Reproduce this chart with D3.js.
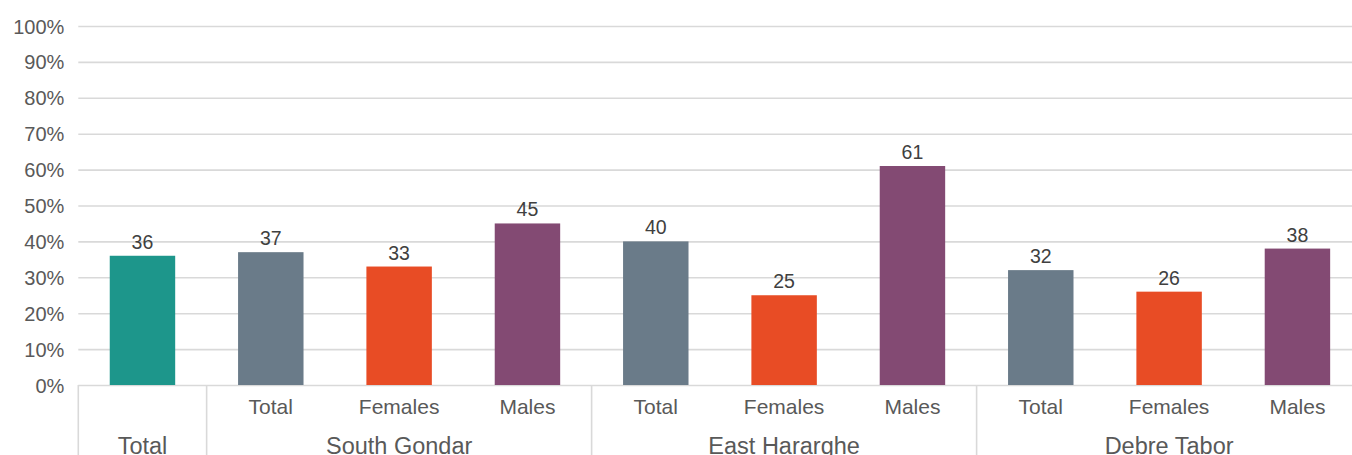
<!DOCTYPE html>
<html>
<head>
<meta charset="utf-8">
<script src="https://cdn.jsdelivr.net/npm/d3@7"></script>
<style>
  html, body { margin: 0; padding: 0; background: #fff; overflow: hidden; }
  svg { display: block; font-family: "Liberation Sans", Arial, sans-serif; }
</style>
</head>
<body>
<svg id="chart" width="1352" height="455"></svg>
<script>
// Share of respondents (%), overall and by zone and sex
const groupNames = ["Total", "South Gondar", "East Hararghe", "Debre Tabor"];
const groupOf    = [0, 1, 1, 1, 2, 2, 2, 3, 3, 3];
const subLabels  = ["", "Total", "Females", "Males", "Total", "Females", "Males", "Total", "Females", "Males"];
const seriesKeys = ["overall", "total", "females", "males", "total", "females", "males", "total", "females", "males"];
const values     = [36, 37, 33, 45, 40, 25, 61, 32, 26, 38];
const yTicks     = [0, 10, 20, 30, 40, 50, 60, 70, 80, 90, 100];

const colors = { overall: "#1d968b", total: "#6a7b89", females: "#e84c25", males: "#834a73" };

const svg = d3.select("#chart");
const plot = { left: 78.3, right: 1361.6, top: 26, bottom: 385 };

const x = d3.scaleBand()
  .domain(d3.range(values.length))
  .range([plot.left, plot.right])
  .paddingInner(0.49)
  .paddingOuter(0.245);

const y = d3.scaleLinear().domain([0, 100]).range([plot.bottom, plot.top]);

// Gridlines and tick labels
const yAxis = d3.axisLeft(y)
  .tickValues(yTicks)
  .tickSize(-(1352 - plot.left))
  .tickPadding(14)
  .tickFormat(d => d + "%");

const gy = svg.append("g")
  .attr("transform", `translate(${plot.left},0)`)
  .call(yAxis);
gy.select(".domain").remove();
gy.selectAll(".tick line").attr("stroke", "#d9d9d9").attr("stroke-width", 1.6);
gy.selectAll(".tick text")
  .attr("fill", "#595959")
  .attr("font-size", 20)
  .attr("dy", "0.35em");

// Bars
svg.append("g").selectAll("rect")
  .data(values)
  .join("rect")
  .attr("x", (d, i) => x(i))
  .attr("y", d => y(d))
  .attr("width", x.bandwidth())
  .attr("height", d => y(0) - y(d))
  .attr("fill", (d, i) => colors[seriesKeys[i]]);

// Value labels
svg.append("g").selectAll("text")
  .data(values)
  .join("text")
  .attr("x", (d, i) => x(i) + x.bandwidth() / 2)
  .attr("y", d => y(d) - 7)
  .attr("text-anchor", "middle")
  .attr("font-size", 19.5)
  .attr("fill", "#404040")
  .text(d => d);

// Category axis: sub labels and group labels with separators
const step = x.step();
const groupSpans = groupNames.map((name, g) => {
  const idx = groupOf.map((v, i) => v === g ? i : -1).filter(i => i >= 0);
  return { name, start: d3.min(idx), end: d3.max(idx) };
});

const sepX = [plot.left].concat(groupSpans.map(s => plot.left + (s.end + 1) * step));
svg.append("g").selectAll("line")
  .data(sepX)
  .join("line")
  .attr("x1", d => d).attr("x2", d => d)
  .attr("y1", plot.bottom).attr("y2", 470)
  .attr("stroke", "#d9d9d9")
  .attr("stroke-width", 1.6);

svg.append("g").selectAll("text")
  .data(subLabels)
  .join("text")
  .attr("x", (d, i) => x(i) + x.bandwidth() / 2)
  .attr("y", 413.5)
  .attr("text-anchor", "middle")
  .attr("font-size", 21)
  .attr("fill", "#595959")
  .text(d => d);

svg.append("g").selectAll("text")
  .data(groupSpans)
  .join("text")
  .attr("x", d => plot.left + (d.start + d.end + 1) / 2 * step)
  .attr("y", 453.5)
  .attr("text-anchor", "middle")
  .attr("font-size", 23.5)
  .attr("fill", "#595959")
  .text(d => d.name);
</script>
</body>
</html>
